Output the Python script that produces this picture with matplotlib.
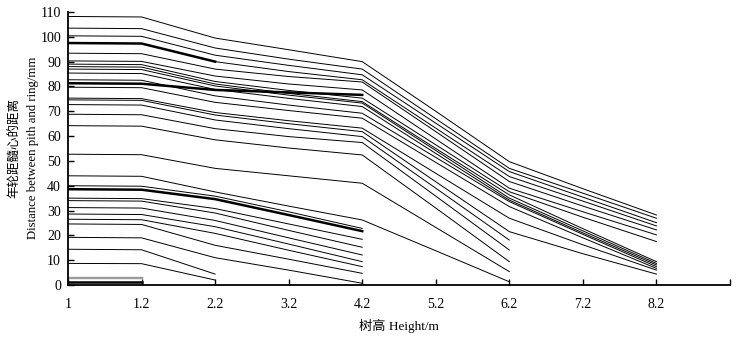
import numpy as np
import matplotlib
matplotlib.use('Agg')
import matplotlib.pyplot as plt

# heights (category axis, last slot left empty like the original)
heights = ['1', '1.2', '2.2', '3.2', '4.2', '5.2', '6.2', '7.2', '8.2', '']

# rings reaching 8.2 m
to_82 = [
    [108.2, 108.0, 99.5, 94.8, 90.0, 70.0, 49.7, 38.8, 28.2],
    [103.5, 103.3, 95.5, 91.0, 87.0, 67.0, 47.0, 37.0, 26.9],
    [100.4, 100.2, 92.6, 88.5, 84.7, 65.2, 45.7, 35.4, 25.1],
    [97.5, 97.3, 90.0, 86.0, 82.7, 63.2, 43.7, 33.8, 23.8],
    [93.4, 93.2, 87.0, 84.0, 81.8, 61.8, 41.7, 31.8, 22.2],
    [90.3, 90.1, 84.2, 81.0, 78.6, 58.8, 39.0, 29.5, 20.2],
    [89.0, 88.8, 82.0, 78.4, 75.3, 56.5, 37.6, 27.3, 17.5],
    [88.0, 87.8, 81.0, 77.2, 73.9, 55.0, 36.3, 22.7, 9.4],
    [87.0, 86.8, 80.2, 76.5, 73.3, 54.2, 35.0, 21.8, 8.7],
    [85.4, 85.2, 78.8, 75.2, 71.9, 53.0, 34.2, 21.0, 8.1],
    [82.7, 82.5, 76.2, 72.5, 69.2, 51.4, 33.6, 20.4, 7.4],
    [79.7, 79.5, 73.6, 70.3, 67.2, 49.4, 31.6, 19.0, 6.7],
    [75.3, 75.1, 69.5, 66.2, 63.2, 45.0, 26.9, 16.2, 6.0],
    [74.6, 74.4, 68.5, 65.0, 61.8, 41.6, 21.5, 12.6, 4.4],
]

# rings ending at 6.2 m
to_62 = [
    [72.7, 72.5, 66.5, 63.0, 59.8, 39.0, 18.1],
    [68.8, 68.6, 63.0, 59.8, 57.4, 35.8, 14.1],
    [64.2, 64.0, 58.5, 55.2, 52.4, 31.0, 9.4],
    [52.7, 52.5, 47.0, 44.0, 41.0, 23.2, 5.4],
    [44.0, 43.8, 37.5, 31.8, 26.2, 13.8, 1.3],
]

# rings ending at 4.2 m
to_42 = [
    [40.0, 39.8, 35.8, 29.5, 22.8],
    [35.0, 34.8, 30.8, 24.6, 18.4],
    [34.0, 33.8, 29.0, 22.0, 15.2],
    [31.2, 31.0, 26.0, 19.0, 12.1],
    [28.6, 28.4, 23.5, 16.5, 9.4],
    [26.5, 26.3, 20.8, 14.0, 7.4],
    [24.6, 24.4, 16.0, 10.4, 4.7],
    [19.2, 19.0, 11.0, 6.0, 0.7],
]
thick_42 = [
    [81.3, 81.1, 78.6, 77.6, 76.6],
    [38.6, 38.4, 34.6, 28.2, 21.7],
]

# rings ending at 2.2 m
to_22 = [
    [14.4, 14.2, 4.4],
    [8.7, 8.6, 2.0],
]
thick_22 = [97.5, 97.3, 90.0]

# rings ending at 1.2 m
grey_12 = [[3.4, 3.4], [2.8, 2.8]]
thick_12 = [1.3, 1.3]

serif = ['Liberation Serif', 'Noto Sans CJK SC']
plt.rcParams['font.family'] = serif

fig = plt.figure(figsize=(7.4, 3.46), dpi=100)
ax = fig.add_axes([68 / 740, 1 - 285 / 346, 662 / 740, 273 / 346])

x = np.arange(len(heights))

for s in to_82 + to_62 + to_42 + to_22:
    ax.plot(x[:len(s)], s, color='black', lw=0.7)
for s in grey_12:
    ax.plot(x[:len(s)], s, color='#9a9a9a', lw=1.0)
for s in thick_42:
    ax.plot(x[:len(s)], s, color='black', lw=1.8)
ax.plot(x[:len(thick_22)], thick_22, color='black', lw=1.8)
ax.plot(x[:len(thick_12)], thick_12, color='black', lw=1.8)

ax.set_xlim(0, len(heights) - 1)
ax.set_ylim(0, 110)
ax.set_xticks(x)
ax.set_xticklabels(heights)
ax.set_yticks(np.arange(0, 111, 10))

for side in ['top', 'right']:
    ax.spines[side].set_visible(False)
for side in ['left', 'bottom']:
    ax.spines[side].set_linewidth(1.3)

ax.tick_params(axis='both', direction='in', length=4, width=1, labelsize=10)
ax.tick_params(axis='x', pad=9)
ax.tick_params(axis='y', pad=5)

ax.set_xlabel('树高 Height/m', fontsize=9.5, labelpad=6)

# two-line y label, drawn as two texts so the CJK line does not overlap
yc = 1 - 148 / 346
fig.text(15 / 740, yc, '年轮距髓心的距离', rotation=90, fontsize=9,
         ha='center', va='center')
fig.text(33 / 740, yc, 'Distance between pith and ring/mm', rotation=90,
         fontsize=9.2, ha='center', va='center')

plt.savefig('out.png', dpi=100)
